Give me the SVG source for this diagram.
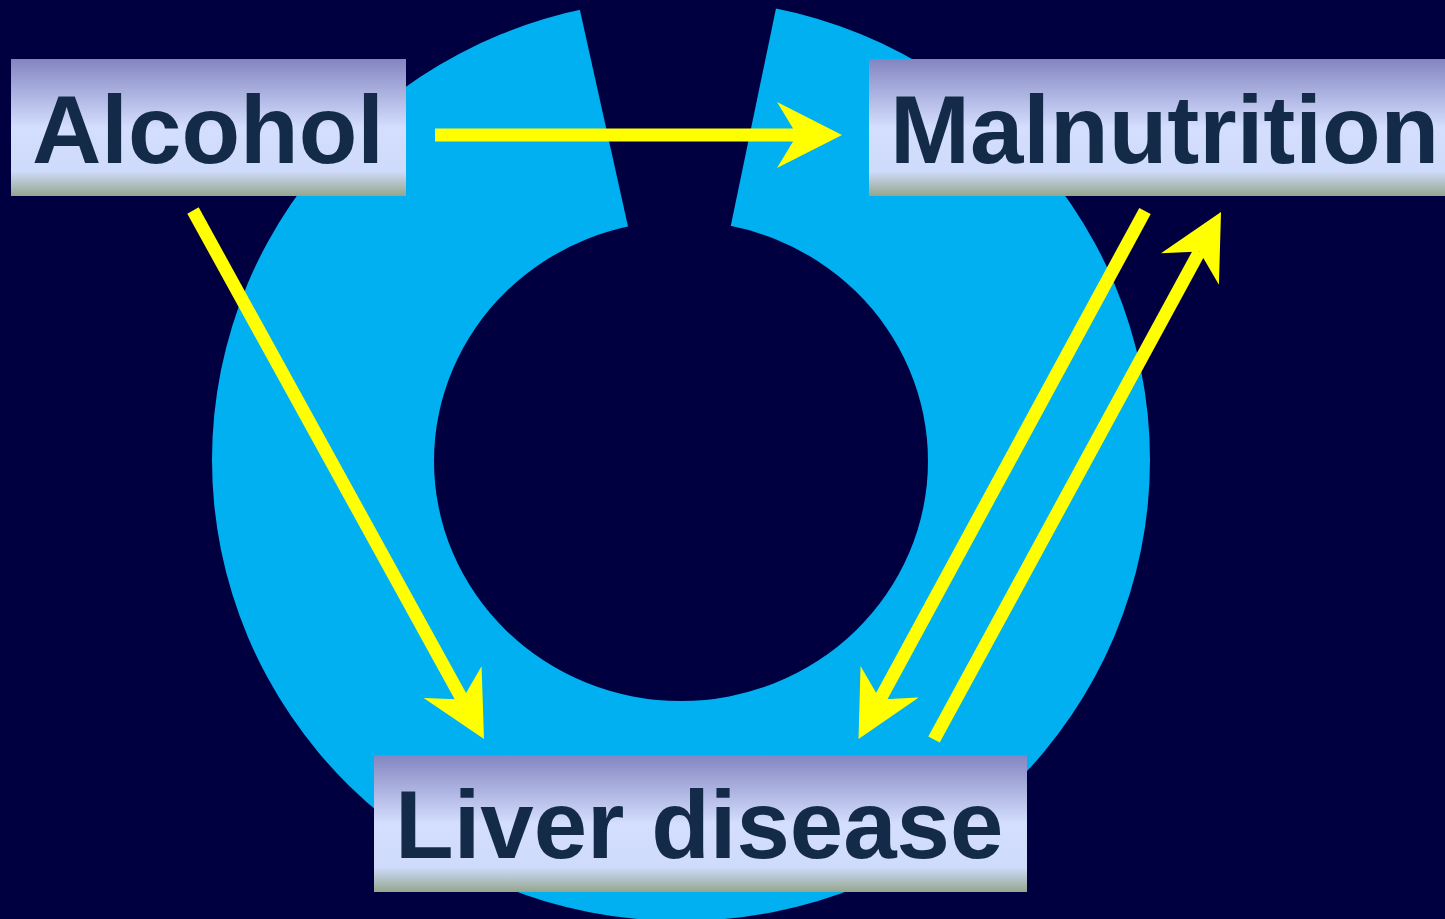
<svg xmlns="http://www.w3.org/2000/svg" width="1445" height="919" viewBox="0 0 1445 919">
  <defs>
    <linearGradient id="boxgrad" x1="0" y1="0" x2="0" y2="1">
      <stop offset="0" stop-color="#8385C1"/>
      <stop offset="0.5" stop-color="#D4DEFE"/>
      <stop offset="0.82" stop-color="#CFDBFA"/>
      <stop offset="1" stop-color="#94A68E"/>
    </linearGradient>
    <marker id="ah" viewBox="-20 -33 65 66" refX="0" refY="0" markerWidth="65" markerHeight="66" markerUnits="userSpaceOnUse" orient="auto">
      <path d="M45,0 L-20,-33 L0,0 L-20,33 Z" fill="#FFFF00"/>
    </marker>
    <style>
      .box { fill: url(#boxgrad); }
      .label { font-family: "Liberation Sans", Arial, sans-serif; font-weight: bold; font-size: 96px; fill: #132B48; }
      .conn { stroke: #FFFF00; stroke-width: 13; fill: none; stroke-linecap: butt; marker-end: url(#ah); }
    </style>
  </defs>
  <rect x="0" y="0" width="1445" height="919" fill="#000040"/>
  <g id="ring">
    <path fill="#00B0F0" fill-rule="evenodd" d="M212,460 A469,461 0 1,0 1150,460 A469,461 0 1,0 212,460 Z M434,461 A247,240 0 1,0 928,461 A247,240 0 1,0 434,461 Z"/>
    <polygon fill="#000040" points="681,465 571,-30 784,-30"/>
  </g>
  <g id="connectors">
    <line class="conn" x1="435" y1="135" x2="797" y2="135"/>
    <line class="conn" x1="193" y1="210.5" x2="462.3" y2="699.6"/>
    <line class="conn" x1="1145" y1="211" x2="880" y2="699.4"/>
    <line class="conn" x1="934" y1="739.5" x2="1199.5" y2="251.5"/>
  </g>
  <g id="alcohol">
    <rect class="box" x="11" y="59" width="395" height="137"/>
    <text class="label" x="32" y="163">Alcohol</text>
  </g>
  <g id="malnutrition">
    <rect class="box" x="869" y="59" width="576" height="137"/>
    <text class="label" x="890" y="163">Malnutrition</text>
  </g>
  <g id="liver-disease">
    <rect class="box" x="374" y="755" width="653" height="137"/>
    <text class="label" x="395" y="858">Liver disease</text>
  </g>
</svg>
